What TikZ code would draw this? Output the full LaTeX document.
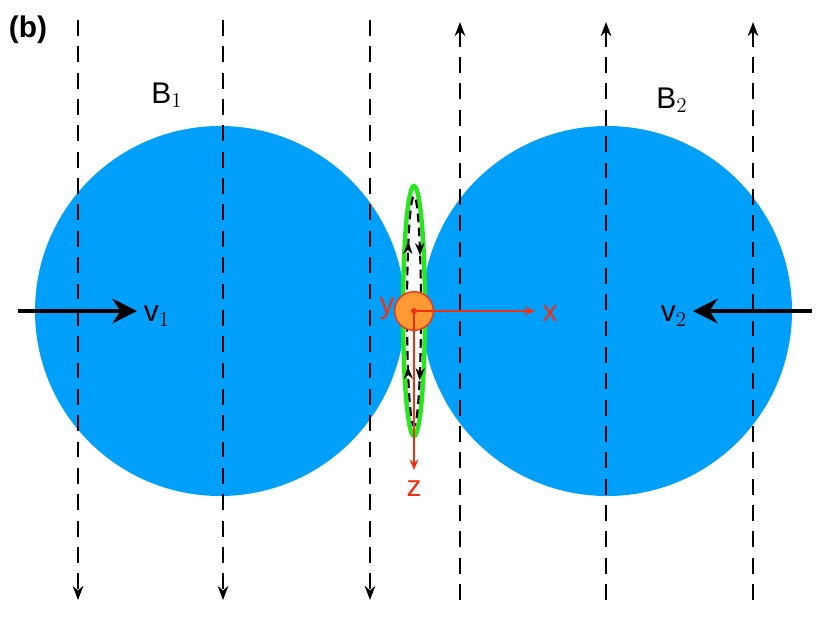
\documentclass[tikz,border=0pt]{standalone}
\usepackage{fontspec}
\setmainfont{Liberation Sans}
\usetikzlibrary{arrows.meta,decorations.markings}
\definecolor{ballblue}{RGB}{0,160,250}
\definecolor{axisred}{RGB}{240,50,20}
\definecolor{ringgreen}{RGB}{40,230,30}
\begin{document}
\begin{tikzpicture}[
	x=0.02cm, y=-0.02cm,
	fieldline/.style={line width=1.6pt, dash pattern=on 9pt off 6pt, -{Stealth[length=8pt,width=6pt]}},
	axisline/.style={axisred, line width=0.8pt, -{Stealth[length=6pt,width=5pt]}},
	velarrow/.style={line width=2.5pt, -{Stealth[length=14pt,width=14pt]}},
	lbl/.style={font=\fontsize{17}{17}\selectfont},
]
\useasboundingbox (0,0) rectangle (830,623);
% nuclei
\fill[ballblue] (220,311) circle (185);
\fill[ballblue] (607,311) circle (185);
% magnetic field lines
\foreach \x in {78,223,370} \draw[fieldline] (\x,20) -- (\x,600);
\foreach \x in {460,606,753} \draw[fieldline] (\x,600) -- (\x,22);
% participant region
\fill[white] (414,311) ellipse (11 and 125);
\draw[ringgreen, line width=2.5pt] (414,311) ellipse (11 and 125);
\draw[line width=1.2pt, dash pattern=on 5pt off 3pt,
	postaction={decorate, decoration={markings,
	mark=at position 0.15 with {\arrow{Stealth[length=7pt]}},
	mark=at position 0.38 with {\arrow{Stealth[length=7pt]}},
	mark=at position 0.65 with {\arrow{Stealth[length=7pt]}},
	mark=at position 0.88 with {\arrow{Stealth[length=7pt]}}}}]
	(414,311) ellipse (7 and 115);
% axes
\node[circle, fill=orange!80, draw=axisred, line width=0.8pt, minimum size=22pt, inner sep=0pt] (o) at (414,311) {};
\fill[axisred] (o.center) circle (3);
\coordinate (xend) at (535,311);
\coordinate (zend) at (414,470);
\draw[axisline] (o.center) -- (xend);
\draw[axisline] (o.center) -- (zend);
\node[lbl, text=axisred] (ylab) at (387,309) {y};
\node[lbl, text=axisred] (xlab) at (550,314) {x};
\node[lbl, text=axisred] (zlab) at (414,489) {z};
% velocities
\coordinate (v1s) at (18,311);
\coordinate (v1e) at (137,311);
\coordinate (v2s) at (812,311);
\coordinate (v2e) at (693,311);
\draw[velarrow] (v1s) -- (v1e);
\draw[velarrow] (v2s) -- (v2e);
\node[lbl] (v1) at (157,316) {v$_1$};
\node[lbl] (v2) at (674,316) {v$_2$};
\node[lbl] (b1) at (167,95) {B$_1$};
\node[lbl] (b2) at (672,100) {B$_2$};
\node[lbl, font=\fontsize{17}{17}\selectfont\bfseries] (tag) at (28,30) {(b)};
\end{tikzpicture}
\end{document}
